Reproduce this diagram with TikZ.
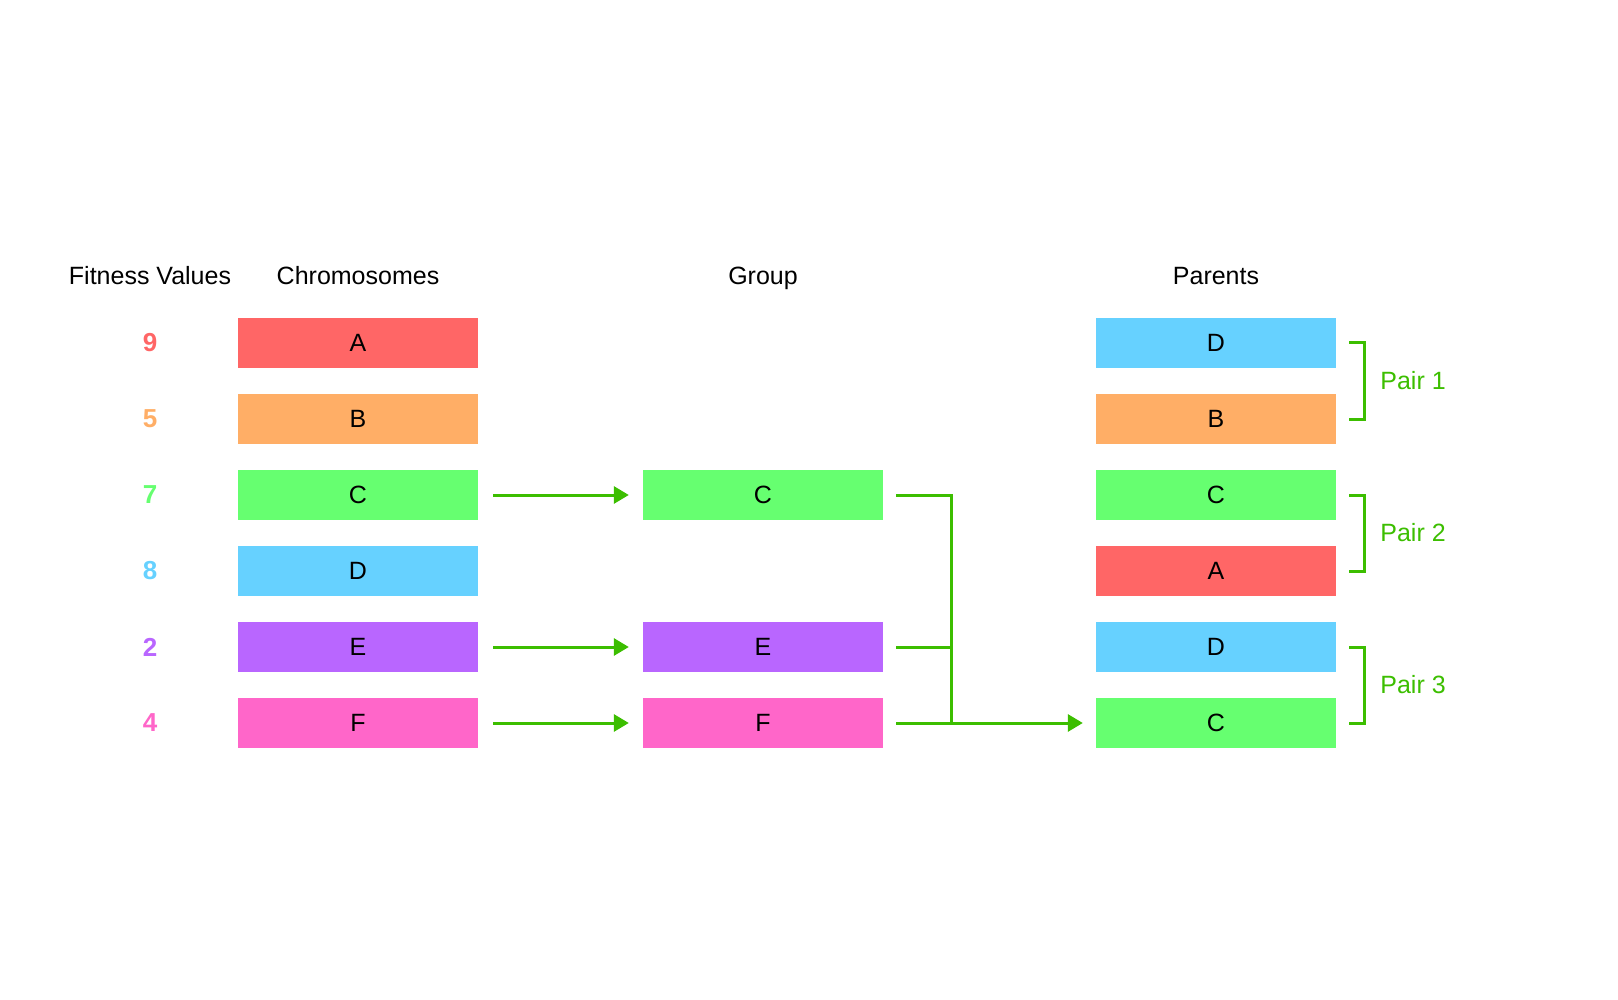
\documentclass[tikz,border=0pt]{standalone}
\usepackage{fontspec}
\setmainfont{Liberation Sans}
\usetikzlibrary{arrows.meta,calc}

\definecolor{cred}{HTML}{FF6666}
\definecolor{corange}{HTML}{FFAE66}
\definecolor{cgreen}{HTML}{66FF70}
\definecolor{cblue}{HTML}{66D1FF}
\definecolor{cpurple}{HTML}{B966FF}
\definecolor{cpink}{HTML}{FF66C9}
\definecolor{linkgreen}{HTML}{3CBE00}

\tikzset{
  chrom/.style={minimum width=240pt, minimum height=50pt, inner sep=0pt,
    font=\fontsize{25}{30}\selectfont},
  fitval/.style={inner sep=0pt, font=\fontsize{26}{30}\selectfont\bfseries},
  heading/.style={anchor=base, inner sep=0pt, font=\fontsize{25}{30}\selectfont},
  link/.style={draw=linkgreen, line width=3pt},
  arr/.style={link, -{Triangle[length=15pt,width=17pt]}},
  pairlabel/.style={anchor=west, inner sep=0pt, text=linkgreen,
    font=\fontsize{25}{30}\selectfont}
}

\begin{document}
\begin{tikzpicture}[x=1pt, y=-1pt]
		\useasboundingbox (0,0) rectangle (1618,1000);
		% headings
		\node[heading] (hfit) at (150,285) {Fitness Values};
		\node[heading] (hchrom) at (358,285) {Chromosomes};
		\node[heading] (hgroup) at (763,285) {Group};
		\node[heading] (hpar) at (1216,285) {Parents};
		% chromosomes and their fitness values
		\foreach \name/\val/\col [count=\i] in {A/9/cred, B/5/corange, C/7/cgreen, D/8/cblue, E/2/cpurple, F/4/cpink}
		{
			\node[chrom, fill=\col] (c\name) at (358,{343+76*(\i-1)}) {\name};
			\node[fitval, text=\col] (f\name) at (150,{343+76*(\i-1)}) {\val};
		}
		% group
		\node[chrom, fill=cgreen] (gC) at (763,495) {C};
		\node[chrom, fill=cpurple] (gE) at (763,647) {E};
		\node[chrom, fill=cpink] (gF) at (763,723) {F};
		% parents
		\foreach \name/\col [count=\i] in {D/cblue, B/corange, C/cgreen, A/cred, D/cblue, C/cgreen}
			\node[chrom, fill=\col] (p\i) at (1216,{343+76*(\i-1)}) {\name};
		% chromosomes to group
		\foreach \name in {C,E,F}
			\draw[arr, shorten <=15pt, shorten >=14pt] (c\name.east) -- (g\name.west);
		% group to parents
		\coordinate (joint) at (951,0);
		\draw[link] ([xshift=13pt]gC.east) -- (joint |- gC.east) -- (joint |- gF.east);
		\draw[link] ([xshift=13pt]gE.east) -- (joint |- gE.east);
		\draw[arr, shorten <=13pt, shorten >=13pt] (gF.east) -- (p6.west);
		% pairs
		\foreach \k/\a/\b in {1/p1/p2, 2/p3/p4, 3/p5/p6}
		{
			\draw[link] ([xshift=13pt]\a.east) -- ++(15,0) |- ([xshift=13pt]\b.east);
			\coordinate (mid\k) at ($(\a.east)!0.5!(\b.east)$);
			\node[pairlabel] (pair\k) at ([xshift=44pt]mid\k) {Pair \k};
		}
		\end{tikzpicture}
\end{document}
